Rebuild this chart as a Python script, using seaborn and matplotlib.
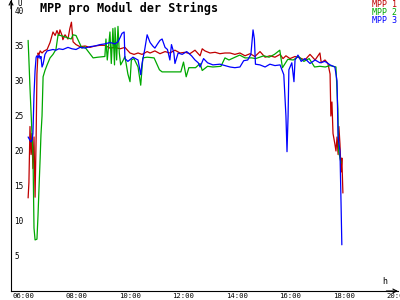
import numpy as np
import pandas as pd
import matplotlib
matplotlib.use("Agg")
import matplotlib.pyplot as plt
import matplotlib.transforms as mtrans
import seaborn as sns

title = "MPP pro Modul der Strings"
series_names = ["MPP 1", "MPP 2", "MPP 3"]
series_colors = ["#c00000", "#00a800", "#0000ff"]

red_t = [6.49, 6.52, 6.56, 6.60, 6.63, 6.67, 6.71, 6.75, 6.79, 6.82, 6.86, 6.90, 6.94, 7.01, 7.09, 7.20,
         7.31, 7.42, 7.50, 7.57, 7.64, 7.68, 7.76, 7.79, 7.87, 7.98, 8.05, 8.11, 8.17, 8.28, 8.43, 8.62,
         8.80, 8.99, 9.18, 9.36, 9.55, 9.74, 9.93, 10.11, 10.30, 10.45, 10.60, 10.75, 10.94, 11.05, 11.23,
         11.42, 11.61, 11.79, 11.98, 12.17, 12.36, 12.54, 12.73, 12.92, 13.00, 13.10, 13.29, 13.48, 13.66,
         13.85, 14.04, 14.22, 14.41, 14.60, 14.79, 14.97, 15.16, 15.35, 15.53, 15.72, 15.91, 16.02, 16.13,
         16.28, 16.47, 16.65, 16.84, 17.03, 17.22, 17.40, 17.45, 17.59, 17.70, 17.78, 17.81, 17.85, 17.89,
         17.96, 18.00, 18.04, 18.08, 18.11, 18.15, 18.19, 18.22, 18.26]
red_v = [13.3, 15.5, 23.5, 19.5, 22.5, 17.5, 22.0, 13.4, 22.0, 31.0, 34.0, 33.8, 34.3, 34.0, 34.3, 34.5,
         35.5, 37.0, 36.5, 37.2, 36.5, 37.3, 36.5, 35.9, 36.6, 36.0, 37.5, 38.4, 35.6, 35.2, 34.9, 35.0,
         34.8, 35.0, 35.1, 35.1, 34.7, 34.8, 34.6, 34.8, 34.0, 33.8, 34.0, 33.8, 34.2, 34.0, 34.3,
         33.9, 34.2, 34.0, 34.4, 34.0, 34.1, 33.9, 34.4, 33.6, 34.6, 34.3, 34.0, 34.1, 33.9,
         34.0, 34.0, 33.8, 34.0, 33.6, 33.9, 33.5, 34.2, 33.4, 33.6, 33.4, 33.8, 33.2, 33.6,
         33.2, 33.5, 33.3, 33.0, 33.8, 33.0, 34.0, 32.6, 33.0, 32.5, 31.0, 25.0, 27.0, 22.5,
         21.0, 20.0, 22.0, 19.5, 23.5, 21.0, 17.0, 19.0, 14.0]

green_t = [6.49, 6.52, 6.56, 6.60, 6.64, 6.67, 6.71, 6.75, 6.82, 6.86, 6.90, 6.94, 6.97, 7.01, 7.05, 7.12,
           7.20, 7.31, 7.42, 7.53, 7.61, 7.79, 8.10, 8.17, 8.28, 8.50, 8.60, 8.92, 9.10, 9.36, 9.40, 9.45,
           9.55, 9.60, 9.66, 9.72, 9.74, 9.80, 9.85, 9.90, 9.95, 10.05, 10.11, 10.22, 10.30, 10.35, 10.45,
           10.60, 10.70, 10.78, 10.94, 11.20, 11.40, 11.50, 12.20, 12.30, 12.40, 12.50, 12.75, 12.92, 13.00,
           13.20, 13.40, 13.70, 13.85, 14.00, 14.40, 14.60, 14.85, 15.00, 15.30, 15.50, 15.70, 15.90, 16.00,
           16.20, 16.40, 16.60, 16.80, 17.00, 17.20, 17.40, 17.60, 17.78, 18.00, 18.07, 18.10, 18.15, 18.19]
green_v = [35.8, 33.0, 29.0, 25.5, 22.0, 20.0, 9.0, 7.3, 7.4, 10.8, 15.0, 19.0, 22.3, 25.0, 30.6, 31.5,
           32.3, 33.3, 33.8, 34.5, 36.6, 36.4, 36.0, 36.6, 36.5, 34.7, 34.9, 33.3, 33.4, 33.5, 36.0, 33.0,
           37.0, 32.5, 37.5, 32.3, 37.6, 33.0, 37.8, 34.0, 32.3, 33.0, 33.5, 31.0, 29.9, 33.0, 33.2,
           32.0, 29.4, 33.3, 33.4, 33.3, 31.6, 31.3, 31.3, 32.7, 30.6, 31.9, 31.9, 32.5, 31.5,
           32.1, 32.0, 32.1, 33.3, 33.0, 33.7, 33.3, 33.3, 33.2, 33.6, 33.4, 33.8, 34.4, 31.9,
           33.1, 33.0, 33.5, 32.8, 33.2, 32.0, 32.1, 32.0, 32.2, 32.0, 26.0, 20.0, 19.0, 18.3]

blue_t = [6.49, 6.52, 6.56, 6.60, 6.64, 6.67, 6.71, 6.75, 6.79, 6.82, 6.86, 6.90, 6.94, 6.97, 7.01, 7.05,
          7.12, 7.20, 7.31, 7.42, 7.53, 7.64, 7.79, 7.98, 8.13, 8.28, 8.43, 8.62, 8.80, 8.99, 9.18, 9.36,
          9.55, 9.74, 9.85, 9.93, 10.00, 10.08, 10.11, 10.22, 10.41, 10.60, 10.70, 10.75, 10.85, 10.94,
          11.05, 11.15, 11.23, 11.33, 11.42, 11.50, 11.61, 11.70, 11.79, 11.85, 11.94, 11.98, 12.10, 12.25,
          12.42, 12.60, 12.73, 12.85, 12.92, 13.05, 13.20, 13.40, 13.66, 13.85, 14.04, 14.22, 14.41, 14.55,
          14.70, 14.82, 14.90, 14.95, 14.99, 15.16, 15.35, 15.53, 15.72, 15.91, 16.05, 16.13, 16.17, 16.21,
          16.24, 16.35, 16.43, 16.47, 16.58, 16.70, 16.84, 17.03, 17.22, 17.40, 17.59, 17.78, 17.96, 18.04,
          18.08, 18.15, 18.19, 18.22]
blue_v = [22.0, 21.8, 21.5, 21.3, 21.6, 22.5, 28.0, 31.5, 33.4, 33.6, 33.3, 33.7, 33.2, 33.5, 32.0, 32.4,
          33.8, 34.3, 34.4, 34.5, 34.4, 34.6, 34.5, 34.8, 34.6, 34.5, 34.8, 34.7, 34.9, 35.0, 35.2, 35.3,
          35.5, 35.3, 35.6, 36.2, 36.8, 37.0, 33.2, 32.8, 33.4, 33.0, 30.9, 32.5, 34.5, 36.6,
          35.5, 35.0, 34.7, 35.3, 35.8, 36.0, 34.8, 34.5, 33.0, 35.2, 34.0, 32.5, 34.0, 33.8,
          34.2, 33.6, 33.0, 32.6, 32.0, 33.2, 32.6, 32.3, 32.4, 32.2, 32.0, 31.9, 32.0, 32.9,
          33.0, 33.8, 37.3, 36.0, 32.4, 32.3, 32.0, 32.4, 32.2, 32.3, 30.9, 25.0, 19.9, 25.0,
          31.6, 32.6, 29.9, 33.0, 33.7, 32.8, 33.2, 32.5, 33.0, 32.6, 32.8, 32.3, 32.0, 30.0,
          22.0, 20.0, 12.6, 6.6]

x_ticks = [6, 8, 10, 12, 14, 16, 18, 20]
x_tick_labels = ["06:00", "08:00", "10:00", "12:00", "14:00", "16:00", "18:00", "20:00"]
y_ticks = [5, 10, 15, 20, 25, 30, 35, 40]

frames = []
for name, t, v in zip(series_names, [red_t, green_t, blue_t], [red_v, green_v, blue_v]):
    frames.append(pd.DataFrame({"t": t, "v": v, "series": name}))
df = pd.concat(frames, ignore_index=True)

sns.set_style("white")
plt.rcParams["font.family"] = ["DejaVu Sans Mono", "DejaVu Sans"]

W, H = 400, 300
fig = plt.figure(figsize=(4, 3), dpi=100)
fig.patch.set_facecolor("white")
ax = fig.add_axes([11 / W, 9 / H, 387 / W, 291 / H])

palette = dict(zip(series_names, series_colors))
sns.lineplot(data=df, x="t", y="v", hue="series", palette=palette, estimator=None, sort=False,
             linewidth=0.9, legend=False, ax=ax)

ax.set_xlim(5.85, 20.32)
ax.set_ylim(0, 41.57)
ax.set_xlabel("")
ax.set_ylabel("")
for s in ["top", "right"]:
    ax.spines[s].set_visible(False)
for s in ["left", "bottom"]:
    ax.spines[s].set_color("black")
    ax.spines[s].set_linewidth(0.8)

ax.set_xticks(x_ticks)
ax.set_xticklabels(x_tick_labels)
ax.set_yticks(y_ticks)
ax.set_yticklabels([str(y) for y in y_ticks])
ax.tick_params(axis="both", direction="inout", length=4.5, width=0.8, color="black",
               labelcolor="black")
ax.tick_params(axis="y", labelsize=5.5, pad=-4.6)
ax.tick_params(axis="x", labelsize=5.2, pad=0.2)
for lbl in ax.get_yticklabels():
    lbl.set_ha("left")
off = mtrans.ScaledTranslation(-3 / 100, 1.5 / 100, fig.dpi_scale_trans)
for lbl in ax.get_xticklabels():
    lbl.set_ha("left")
    lbl.set_transform(lbl.get_transform() + off)

# axis arrows
ax.annotate("", xy=(0, 1.0), xycoords="axes fraction", xytext=(0, 0.97),
            arrowprops=dict(arrowstyle="->", color="black", lw=0.8, shrinkA=0, shrinkB=0,
                            mutation_scale=7))
ax.annotate("", xy=(1.0, 0), xycoords="axes fraction", xytext=(0.97, 0),
            arrowprops=dict(arrowstyle="->", color="black", lw=0.8, shrinkA=0, shrinkB=0,
                            mutation_scale=7))

fig.text(40 / W, 1 - 8 / H, title, fontsize=8.5, fontweight="bold", va="center", ha="left",
         color="black")
fig.text(17 / W, 1 - 3 / H, "U", fontsize=5.5, va="center", ha="left", color="black")
fig.text(385 / W, 1 - 282 / H, "h", fontsize=6, va="center", ha="center", color="black")
for i, (name, col) in enumerate(zip(series_names, series_colors)):
    fig.text(397 / W, 1 - (4.5 + 7.8 * i) / H, name, fontsize=6, color=col, ha="right", va="center")

fig.savefig("out.png", dpi=100, facecolor="white")
